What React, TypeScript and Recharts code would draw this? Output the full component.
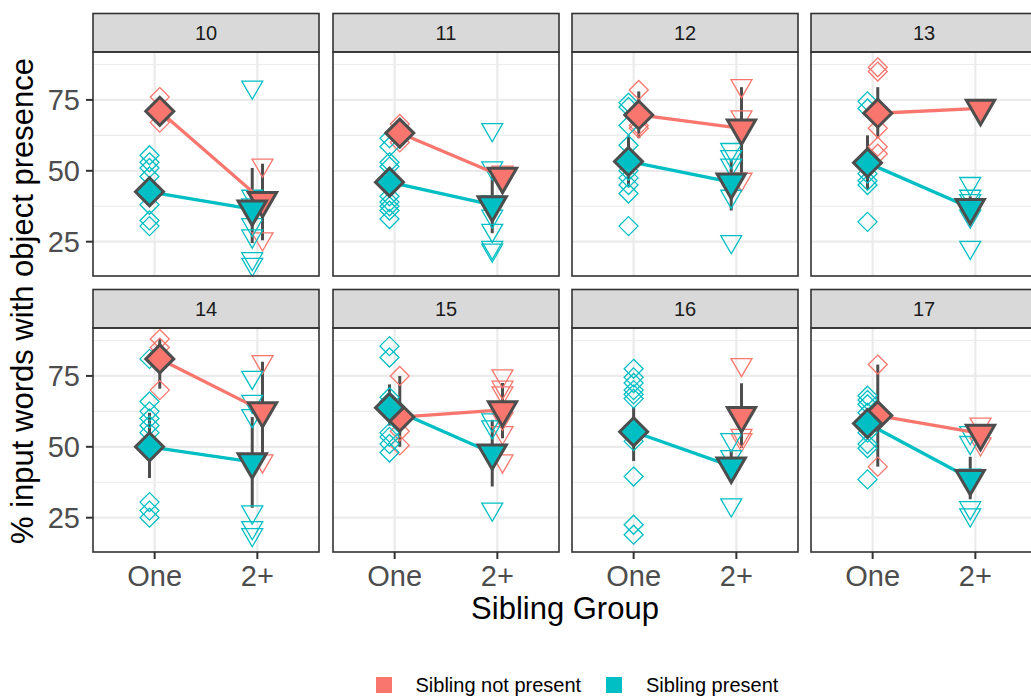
import React from 'react';
import { ComposedChart, Scatter, XAxis, YAxis, CartesianGrid, ErrorBar } from 'recharts';

// ---------- data ----------
const facetLabels = ['10', '11', '12', '13', '14', '15', '16', '17'];
const xCategories = ['One', '2+'];
const seriesLabels = ['Sibling not present', 'Sibling present'];
const seriesColors = ['#F8766D', '#00BFC4'];
const yTicks = [25, 50, 75];
const yMinorTicks = [37.5, 62.5, 87.5];
const yAxisTitle = '% input words with object presence';
const xAxisTitle = 'Sibling Group';

// individual participants, per facet
const notPresentOne = [
  [76, 67], [66.5, 60], [78.5, 66, 65], [86.5, 85, 65, 58.5, 56],
  [88, 85, 70], [75, 55.5, 50.5], [], [79, 61, 43],
];
const notPresentTwo = [
  [52, 40, 26], [49.5, 47], [80, 69, 47], [72],
  [80, 63, 45], [75, 71, 69, 60, 55, 45], [79, 54, 52.5], [58, 55, 51],
];
const presentOne = [
  [55.5, 53, 51, 48, 43, 38, 32.5, 30.5],
  [61.5, 58.5, 53, 51.5, 41, 39, 37.5, 36, 33],
  [74, 72.5, 66, 59, 50, 47.5, 45, 42, 30.5],
  [74.5, 72, 49, 46.5, 45, 32],
  [81, 66, 62.5, 60, 57.5, 55, 30.5, 27.5, 25],
  [85.5, 81.5, 67.5, 66, 55, 53.5, 51, 48],
  [77.5, 74.5, 72.5, 70, 68.5, 67, 53.5, 52, 39.5, 22.5, 19],
  [68, 66.5, 65, 62, 55, 51, 49.5, 38.5],
];
const presentTwo = [
  [79.5, 41, 38, 31, 27, 19, 17],
  [64.5, 51, 39, 34, 29, 23, 22],
  [57.5, 55, 52, 41, 25],
  [45.5, 41, 39.5, 38, 34, 23],
  [74.5, 66, 61, 27, 21.5, 19],
  [59.5, 57, 28],
  [52.5, 46.5, 29.5],
  [55, 51.5, 40, 28.5, 26],
];

// group means [One, 2+]
const notPresentMean = [
  [71, 39.5], [63.3, 48], [69.7, 65], [70.3, 72],
  [81, 62.7], [60.5, 63], [null, 61], [61, 54.7],
];
const presentMean = [
  [42.6, 36.5], [46, 38], [53.3, 46], [52.8, 37],
  [50, 44.7], [63.8, 47.8], [55.3, 43.2], [58.2, 38.8],
];

// interval [low, high] for [One, 2+]
const notPresentInterval = [
  [[67, 75], [25.5, 52.5]],
  [[60.5, 66], [46.5, 49.5]],
  [[61.5, 78], [48, 79.5]],
  [[61.5, 79.5], null],
  [[70.5, 88], [47.5, 80]],
  [[50, 75], [53, 72.5]],
  [null, [49.6, 72.4]],
  [[43, 79], [51, 58]],
];
const presentInterval = [
  [[39.5, 46], [24.5, 51]],
  [[42, 50], [28, 48]],
  [[44.5, 62.5], [36, 54]],
  [[43.5, 62.5], [33, 41]],
  [[39, 62], [28.5, 60.5]],
  [[57.5, 72], [36, 59.5]],
  [[45, 64], [38, 49]],
  [[54, 62.5], [31.5, 46.5]],
];

// ---------- layout ----------
const FONT = '"Liberation Sans", Arial, Helvetica, sans-serif';
const PANEL_LEFTS = [93, 333, 572, 811];
const PLOT_TOPS = [52, 328];
const STRIP_TOPS = [13.5, 289.5];
const PANEL_W = 226;
const PANEL_H = 224;
const Y_AXIS_W = 93;
const X_AXIS_H = 60;
const DODGE = 0.05;
const DARK = '#4D4D4D';

type Pt = { x: number; y: number; cat: number; err?: number[] };

const individualArrays = [
  [notPresentOne, notPresentTwo],
  [presentOne, presentTwo],
];
const meanArrays = [notPresentMean, presentMean];
const intervalArrays = [notPresentInterval, presentInterval];

function hasGroup(s: number, i: number, cat: number) {
  return individualArrays[s][cat][i].length > 0 || meanArrays[s][i][cat] != null;
}
function xPos(s: number, i: number, cat: number) {
  const both = hasGroup(0, i, cat) && hasGroup(1, i, cat);
  const d = both ? DODGE : 0;
  return cat + 1 + (s === 0 ? d : -d);
}
function individualData(s: number, i: number): Pt[] {
  const out: Pt[] = [];
  [0, 1].forEach((cat) => {
    individualArrays[s][cat][i].forEach((y: number) => out.push({ x: xPos(s, i, cat), y, cat }));
  });
  return out;
}
function meanData(s: number, i: number): Pt[] {
  const out: Pt[] = [];
  [0, 1].forEach((cat) => {
    const m = meanArrays[s][i][cat];
    if (m == null) return;
    const iv = intervalArrays[s][i][cat];
    out.push({ x: xPos(s, i, cat), y: m, cat, err: iv ? [m - iv[0], iv[1] - m] : [0, 0] });
  });
  return out;
}
function errorData(s: number, i: number): Pt[] {
  return meanData(s, i).filter((p) => intervalArrays[s][i][p.cat] != null);
}

// ---------- shapes ----------
function diamondPath(cx: number, cy: number, r: number) {
  return `M${cx},${cy - r}L${cx + r},${cy}L${cx},${cy + r}L${cx - r},${cy}Z`;
}
function triPath(cx: number, cy: number, R: number) {
  const h = (R * Math.sqrt(3)) / 2;
  return `M${cx - h},${cy - R / 2}L${cx + h},${cy - R / 2}L${cx},${cy + R}Z`;
}
const smallShape = (color: string) => (props: any) => {
  const { cx, cy, payload } = props;
  if (cx == null || cy == null) return <g />;
  const d = payload && payload.cat === 0 ? diamondPath(cx, cy, 9.5) : triPath(cx, cy, 12.1);
  return <path d={d} fill="none" stroke={color} strokeWidth={1.3} />;
};
const bigShape = (color: string) => (props: any) => {
  const { cx, cy, payload } = props;
  if (cx == null || cy == null) return <g />;
  const d = payload && payload.cat === 0 ? diamondPath(cx, cy, 14) : triPath(cx, cy, 16.3);
  return <path d={d} fill={color} stroke={DARK} strokeWidth={3} strokeLinejoin="miter" />;
};
const emptyShape = () => <g />;

// ---------- panel ----------
function Panel({ i }: { i: number }) {
  const col = i % 4;
  const row = Math.floor(i / 4);
  const yW = col === 0 ? Y_AXIS_W : 0;
  const xH = row === 1 ? X_AXIS_H : 0;
  const tickStyle = { fontSize: 29, fill: DARK, fontFamily: FONT };
  return (
    <div style={{ position: 'absolute', left: PANEL_LEFTS[col] - yW, top: PLOT_TOPS[row] }}>
      <ComposedChart width={yW + PANEL_W} height={PANEL_H + xH} margin={{ top: 0, right: 0, bottom: 0, left: 0 }}>
        <CartesianGrid horizontalValues={yMinorTicks} vertical={false} stroke="#EBEBEB" strokeWidth={1.1} />
        <CartesianGrid horizontalValues={yTicks} verticalValues={[1, 2]} stroke="#EBEBEB" strokeWidth={2.2} />
        <XAxis
          type="number"
          dataKey="x"
          domain={[0.4, 2.6]}
          allowDataOverflow
          ticks={[1, 2]}
          interval={0}
          tickFormatter={(v: number) => xCategories[Math.round(v) - 1]}
          hide={row === 0}
          height={xH}
          axisLine={false}
          tickLine={{ stroke: '#333333', strokeWidth: 2 }}
          tickSize={7}
          tickMargin={6}
          tick={tickStyle}
        />
        <YAxis
          type="number"
          dataKey="y"
          domain={[12.9, 91.9]}
          allowDataOverflow
          ticks={yTicks}
          interval={0}
          hide={col !== 0}
          width={yW}
          axisLine={false}
          tickLine={{ stroke: '#333333', strokeWidth: 2 }}
          tickSize={7}
          tickMargin={6}
          tick={tickStyle}
        />
        {[0, 1].map((s) => (
          <Scatter
            key={'ind' + s}
            name={seriesLabels[s] + ' individual'}
            data={individualData(s, i)}
            shape={smallShape(seriesColors[s])}
            isAnimationActive={false}
          />
        ))}
        {[0, 1].map((s) => (
          <Scatter
            key={'line' + s}
            name={seriesLabels[s] + ' line'}
            data={meanData(s, i)}
            shape={emptyShape}
            line={{ stroke: seriesColors[s], strokeWidth: 3.3 }}
            isAnimationActive={false}
          />
        ))}
        {[0, 1].map((s) => (
          <Scatter
            key={'err' + s}
            name={seriesLabels[s] + ' interval'}
            data={errorData(s, i)}
            shape={emptyShape}
            isAnimationActive={false}
          >
            <ErrorBar dataKey="err" direction="y" width={0} stroke={DARK} strokeWidth={3} isAnimationActive={false} />
          </Scatter>
        ))}
        {[0, 1].map((s) => (
          <Scatter
            key={'mean' + s}
            name={seriesLabels[s]}
            data={meanData(s, i)}
            shape={bigShape(seriesColors[s])}
            isAnimationActive={false}
          />
        ))}
      </ComposedChart>
    </div>
  );
}

export default function App() {
  return (
    <div
      style={{
        position: 'absolute',
        left: 0,
        top: 0,
        width: 1031,
        height: 697,
        overflow: 'hidden',
        background: '#FFFFFF',
        fontFamily: FONT,
      }}
    >
      {facetLabels.map((_, i) => (
        <Panel key={i} i={i} />
      ))}
      <svg width={1031} height={697} style={{ position: 'absolute', left: 0, top: 0, pointerEvents: 'none' }}>
        {facetLabels.map((lab, i) => {
          const col = i % 4;
          const row = Math.floor(i / 4);
          const x = PANEL_LEFTS[col];
          const st = STRIP_TOPS[row];
          const pt = PLOT_TOPS[row];
          return (
            <g key={lab}>
              <rect x={x} y={st} width={PANEL_W} height={pt - st} fill="#D9D9D9" stroke="#333333" strokeWidth={1.6} />
              <text
                x={x + PANEL_W / 2}
                y={(st + pt) / 2 + 7}
                textAnchor="middle"
                fontSize={20}
                fill="#1A1A1A"
                fontFamily={FONT}
              >
                {lab}
              </text>
              <rect x={x} y={pt} width={PANEL_W} height={PANEL_H} fill="none" stroke="#333333" strokeWidth={1.6} />
            </g>
          );
        })}
        <text
          transform={`translate(33, 301) rotate(-90)`}
          textAnchor="middle"
          fontSize={31}
          fill="#000000"
          fontFamily={FONT}
        >
          {yAxisTitle}
        </text>
        <text x={565} y={619} textAnchor="middle" fontSize={31} fill="#000000" fontFamily={FONT}>
          {xAxisTitle}
        </text>
        <rect x={376} y={677} width={16} height={16} fill={seriesColors[0]} />
        <text x={415.5} y={691.5} fontSize={20} fill="#000000" fontFamily={FONT}>
          {seriesLabels[0]}
        </text>
        <rect x={606} y={677} width={16} height={16} fill={seriesColors[1]} />
        <text x={646} y={691.5} fontSize={20} fill="#000000" fontFamily={FONT}>
          {seriesLabels[1]}
        </text>
      </svg>
    </div>
  );
}
